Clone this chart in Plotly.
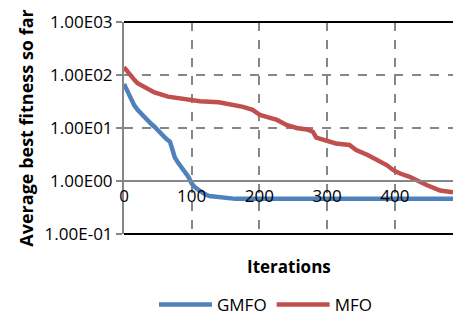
import plotly.graph_objects as go

# Convergence curves: average best fitness vs iteration
gmfo_iter = [0, 5, 10, 15, 20, 28, 35, 40, 45, 50, 55, 62, 68, 72, 75, 80, 85, 90, 95,
             100, 104, 110, 114, 120, 126, 135, 145, 155, 165, 200, 300, 400, 486]
gmfo_fit = [68, 48, 34, 27, 22, 17, 14, 12, 10.6, 9, 7.4, 6.3, 5.5, 4, 2.8, 2.2, 1.8, 1.45, 1.2,
            0.9, 0.78, 0.68, 0.62, 0.56, 0.52, 0.5, 0.485, 0.47, 0.46, 0.46, 0.46, 0.46, 0.46]

mfo_iter = [0, 5, 10, 15, 20, 30, 45, 65, 89, 112, 140, 157, 176, 190, 196, 201, 212, 226,
            240, 255, 270, 279, 284, 290, 302, 313, 333, 343, 360, 373, 388, 398, 407, 422,
            431, 447, 467, 486]
mfo_fit = [140, 115, 100, 82, 70, 60, 47, 39, 35, 32, 30.5, 28.4, 25, 22, 20, 17.6, 16, 14.2,
           11.4, 10, 9.4, 8.5, 6.6, 6.3, 5.5, 5.1, 4.8, 3.85, 3.1, 2.5, 2.0, 1.6, 1.4, 1.2,
           1.05, 0.84, 0.66, 0.61]

y_ticks = [0.1, 1, 10, 100, 1000]
y_labels = ["1.00E-01", "1.00E00", "1.00E01", "1.00E02", "1.00E03"]
x_ticks = [0, 100, 200, 300, 400]

FONT = "Open Sans"
AXIS_GRAY = "#868686"

fig = go.Figure()
fig.add_trace(go.Scatter(x=mfo_iter, y=mfo_fit, mode="lines", name="MFO",
                         line=dict(color="#C0504D", width=4.5), legendrank=2))
fig.add_trace(go.Scatter(x=gmfo_iter, y=gmfo_fit, mode="lines", name="GMFO",
                         line=dict(color="#4F81BD", width=4.5), legendrank=1))

fig.update_layout(
    width=453, height=323,
    margin=dict(l=124, r=0, t=22, b=89),
    paper_bgcolor="white", plot_bgcolor="white",
    font=dict(family=FONT, size=17, color="black"),
    showlegend=True,
    legend=dict(orientation="h", x=0.43, xanchor="center", y=-0.335, yanchor="middle",
                font=dict(size=17), itemwidth=53, traceorder="normal"),
    xaxis=dict(
        range=[0, 486], tickvals=x_ticks, showgrid=True, gridcolor=AXIS_GRAY,
        griddash="dash", gridwidth=1.5, zeroline=False,
        showline=True, linecolor=AXIS_GRAY, linewidth=2,
        anchor="free", position=0.25, ticks="", ticklen=0,
        tickfont=dict(size=17),
    ),
    yaxis=dict(
        type="log", range=[-1, 3], tickvals=y_ticks, ticktext=y_labels,
        showgrid=True, gridcolor=AXIS_GRAY, griddash="dash", gridwidth=1.5,
        showline=True, linecolor=AXIS_GRAY, linewidth=2,
        ticks="outside", ticklen=6, tickwidth=2, tickcolor=AXIS_GRAY,
        tickfont=dict(size=17),
        title=dict(text="<b>Average best fitness so far</b>", font=dict(size=18), standoff=6),
    ),
    annotations=[dict(text="<b>Iterations</b>", xref="paper", yref="paper", x=0.5, y=0,
                      xanchor="center", yanchor="middle", yshift=-32, showarrow=False,
                      font=dict(size=17))],
    shapes=[
        dict(type="line", xref="paper", yref="paper", x0=0, x1=1, y0=1, y1=1,
             line=dict(color="black", width=2)),
        dict(type="line", xref="paper", yref="paper", x0=0, x1=1, y0=0, y1=0,
             line=dict(color="black", width=2)),
    ],
)

fig.write_html("out.html")
